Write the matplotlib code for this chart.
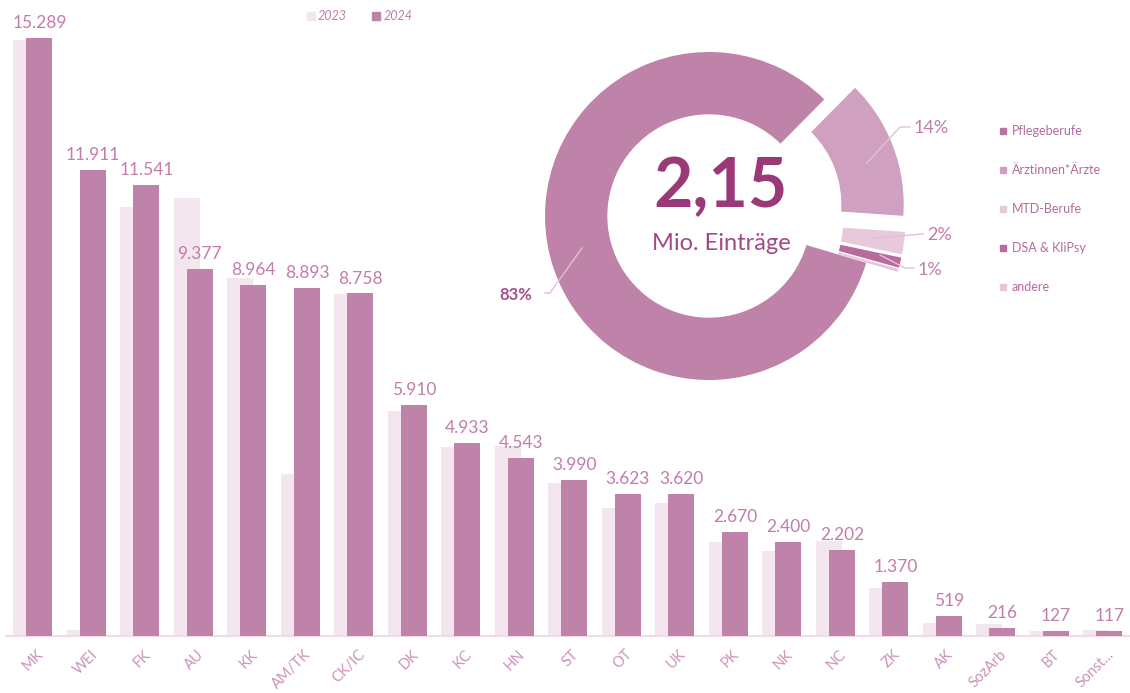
import numpy as np
import matplotlib
matplotlib.use("Agg")
import matplotlib.pyplot as plt
from matplotlib.lines import Line2D
import matplotlib.transforms as mtransforms

# ---------------- data ----------------
categories = ["MK", "WEI", "FK", "AU", "KK", "AM/TK", "CK/IC", "DK", "KC", "HN", "ST",
              "OT", "UK", "PK", "NK", "NC", "ZK", "AK", "SozArb", "BT", "Sonst..."]
values_2024 = [15289, 11911, 11541, 9377, 8964, 8893, 8758, 5910, 4933, 4543, 3990,
               3623, 3620, 2670, 2400, 2202, 1370, 519, 216, 127, 117]
values_2023 = [15250, 150, 10960, 11200, 9150, 4150, 8750, 5750, 4840, 4870, 3920,
               3280, 3410, 2410, 2170, 2430, 1230, 325, 299, 136, 161]
series_names = ["2023", "2024"]

donut_labels = ["Pflegeberufe", "Ärztinnen*Ärzte", "MTD-Berufe", "DSA & KliPsy", "andere"]
donut_shares = [82.8, 13.7, 2.2, 1.0, 0.3]
donut_pct_text = ["83%", "14%", "2%", "1%", ""]
center_value = "2,15"
center_caption = "Mio. Einträge"

# ---------------- style ----------------
FONT = ["Lato", "DejaVu Sans"]
plt.rcParams["font.family"] = FONT
C23 = "#F3E6EF"
C24 = "#BF82A8"
LABEL_C = "#C27DAA"
TICK_C = "#CC92B9"
DONUT_C = ["#BF82A8", "#CFA0BF", "#E8C9DC", "#B86A9C", "#E6C6DA"]
LEG_MARK_C = ["#B8739F", "#CFA0BF", "#E8C9DC", "#B86A9C", "#E6C6DA"]

W, H = 1130, 693
fig = plt.figure(figsize=(W / 100, H / 100), dpi=100)


def fx(px):
    return px / W


def fy(py):
    return 1 - py / H


# ---------------- bar chart ----------------
ax = fig.add_axes([fx(6), fy(636), fx(1123.5), 598 / H])
x = np.arange(len(categories))
bw = 0.486
ax.bar(x - 0.125, values_2023, width=bw, color=C23, zorder=2)
ax.bar(x + 0.125, values_2024, width=bw, color=C24, zorder=3)
for xi, v in zip(x, values_2024):
    ax.annotate(f"{v:,}".replace(",", "."), (xi + 0.125, v), xytext=(0, 5),
                textcoords="offset points", ha="center", va="bottom",
                fontsize=12.5, color=LABEL_C, clip_on=False, zorder=4)
ax.set_xlim(-0.5, len(categories) - 0.5)
ax.set_ylim(0, max(values_2024))
ax.set_xticks(x)
ax.set_xticklabels(categories, rotation=45, ha="right", rotation_mode="anchor",
                   fontsize=10.5, color=TICK_C)
ax.tick_params(axis="x", length=0, pad=8)
shift = mtransforms.ScaledTranslation(4 / 100, 0, fig.dpi_scale_trans)
for lbl in ax.get_xticklabels():
    lbl.set_transform(lbl.get_transform() + shift)
ax.set_yticks([])
for s in ["top", "right", "left"]:
    ax.spines[s].set_visible(False)
ax.spines["bottom"].set_color("#F0DCE8")
ax.spines["bottom"].set_linewidth(1.5)
ax.patch.set_alpha(0)

# top legend
for (mx, tx, col, name) in [(311, 318, C23, series_names[0]), (376, 384, C24, series_names[1])]:
    fig.add_artist(Line2D([fx(mx)], [fy(16)], marker="s", markersize=6,
                          color=col, linestyle="none", transform=fig.transFigure))
    fig.text(fx(tx), fy(16), name, fontsize=9, style="italic", color=LABEL_C,
             va="center", ha="left")

# ---------------- donut ----------------
cx, cy, R = 709, 216, 164
half = 260
dax = fig.add_axes([fx(cx - half), fy(cy + half), 2 * half / W, 2 * half / H])
wedges, _ = dax.pie(donut_shares, colors=DONUT_C, startangle=-16.6, counterclock=False,
                    explode=[0, 0.2, 0.2, 0.2, 0.2], radius=1.0,
                    wedgeprops=dict(width=0.38, edgecolor="none"))
dax.set_xlim(-half / R, half / R)
dax.set_ylim(-half / R, half / R)
dax.set_aspect("equal")
dax.axis("off")

fig.text(fx(720), fy(188), center_value, fontsize=49, fontweight="bold",
         color="#9B3878", ha="center", va="center")
fig.text(fx(721), fy(244), center_caption, fontsize=17, color="#A14A85",
         ha="center", va="center")

LEADER = "#E3BFD6"


def leader(pts):
    xs = [fx(p[0]) for p in pts]
    ys = [fy(p[1]) for p in pts]
    fig.add_artist(Line2D(xs, ys, color=LEADER, linewidth=1, transform=fig.transFigure))


leader([(582, 248), (550, 293), (545, 293)])
fig.text(fx(516), fy(295), donut_pct_text[0], fontsize=12, fontweight="bold",
         color="#A8528A", ha="center", va="center")
leader([(867, 163), (900, 127), (910, 127)])
fig.text(fx(931), fy(128), donut_pct_text[1], fontsize=13, color=LABEL_C,
         ha="center", va="center")
leader([(873, 238), (923, 234)])
fig.text(fx(940), fy(235), donut_pct_text[2], fontsize=13, color=LABEL_C,
         ha="center", va="center")
leader([(880, 255), (905, 268), (914, 268)])
fig.text(fx(930), fy(270), donut_pct_text[3], fontsize=13, color=LABEL_C,
         ha="center", va="center")

# right legend
for i, (name, col) in enumerate(zip(donut_labels, LEG_MARK_C)):
    yy = 131 + i * 39
    fig.add_artist(Line2D([fx(1003)], [fy(yy)], marker="s", markersize=5,
                          color=col, linestyle="none", transform=fig.transFigure))
    fig.text(fx(1012), fy(yy), name, fontsize=9, color="#B46C9C",
             ha="left", va="center")

fig.savefig("out.png", dpi=100)
